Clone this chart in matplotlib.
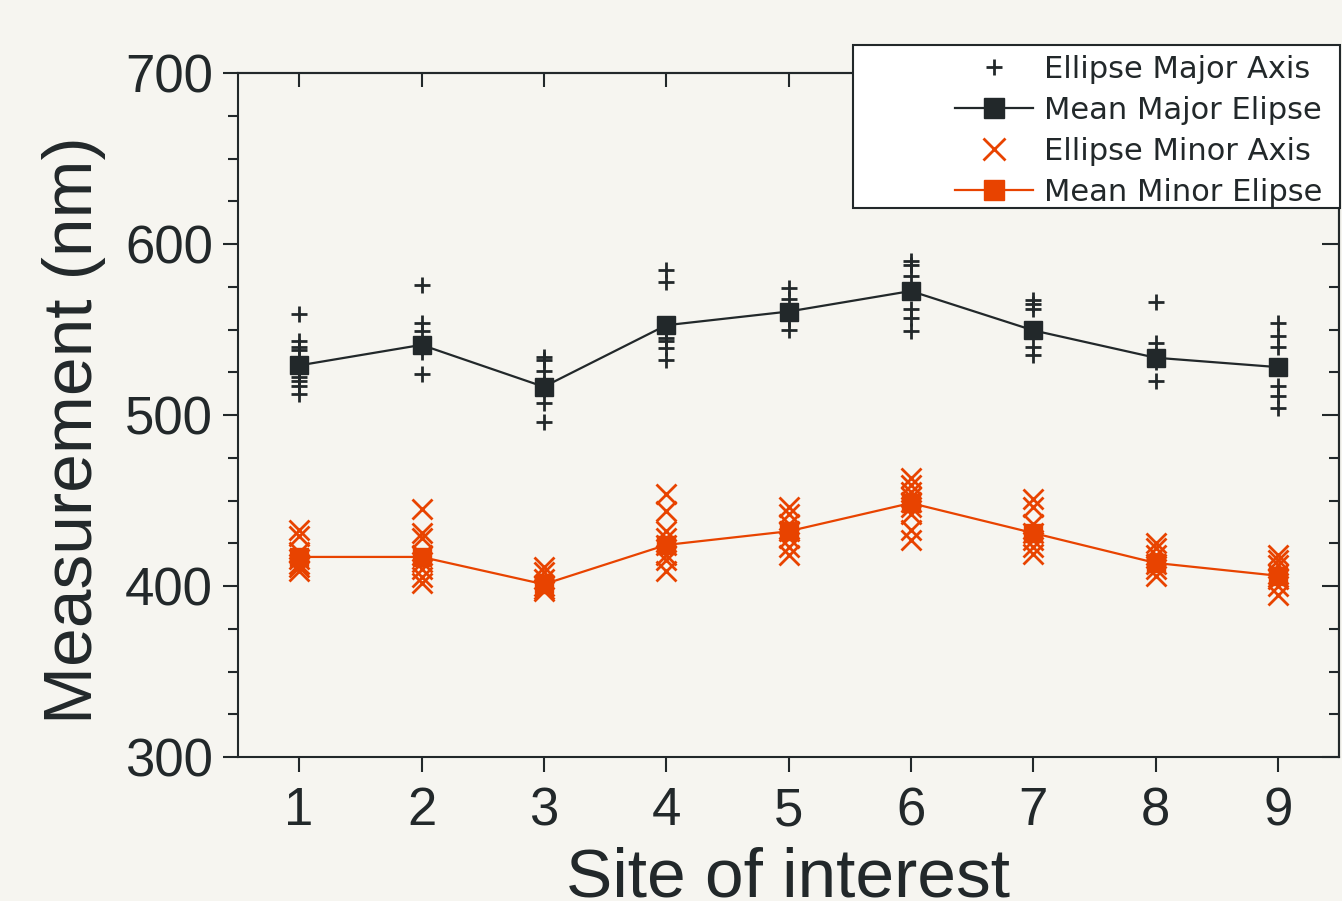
import matplotlib
matplotlib.use('Agg')
import matplotlib.pyplot as plt
from matplotlib.ticker import MultipleLocator
from matplotlib.patches import Rectangle

# ---------------- data ----------------
sites = [1, 2, 3, 4, 5, 6, 7, 8, 9]

major_axis_values = [
    [559, 543, 540, 538, 530, 522, 520, 517, 512],
    [576, 554, 549, 542, 540, 537, 524],
    [534, 532, 526, 518, 515, 507, 496],
    [585, 578, 553, 545, 543, 539, 532],
    [574, 568, 561, 556, 550],
    [590, 588, 581, 573, 562, 557, 549],
    [567, 565, 562, 550, 540, 535],
    [566, 542, 535, 531, 520],
    [554, 546, 540, 528, 517, 511, 504],
]
minor_axis_values = [
    [433, 429, 420, 416, 413, 411, 409],
    [445, 431, 428, 418, 414, 410, 405, 402],
    [411, 408, 404, 400, 398, 397],
    [454, 444, 432, 428, 424, 418, 415, 409],
    [446, 442, 436, 432, 428, 423, 418],
    [463, 459, 455, 452, 449, 446, 442, 433, 427],
    [451, 446, 436, 431, 427, 423, 419],
    [425, 422, 418, 413, 410, 406],
    [418, 415, 412, 407, 404, 400, 395],
]
mean_major = [529, 541, 516.5, 552.5, 560.5, 572.5, 549.5, 533.5, 528]
mean_minor = [417, 417, 401, 424, 432, 448.5, 431, 413.5, 406]

legend_labels = ["Ellipse Major Axis", "Mean Major Elipse",
                 "Ellipse Minor Axis", "Mean Minor Elipse"]
x_label = "Site of interest"
y_label = "Measurement (nm)"

# ---------------- style ----------------
BG = '#f6f5f0'
DARK = '#22282a'
ORANGE = '#e84300'
W, H = 1342, 901

plt.rcParams['font.family'] = ['Liberation Sans', 'DejaVu Sans']

fig = plt.figure(figsize=(W / 100, H / 100), dpi=100, facecolor=BG)
ax = fig.add_axes([238 / W, 1 - 757 / H, (1339 - 238) / W, (757 - 73) / H])
ax.set_facecolor(BG)

maj_x = [s for s, v in zip(sites, major_axis_values) for _ in v]
maj_y = [y for v in major_axis_values for y in v]
min_x = [s for s, v in zip(sites, minor_axis_values) for _ in v]
min_y = [y for v in minor_axis_values for y in v]

h1, = ax.plot(maj_x, maj_y, ls='none', marker='+', ms=11, mew=2.0, color=DARK, zorder=3)
h3, = ax.plot(min_x, min_y, ls='none', marker='x', ms=14, mew=2.0, color=ORANGE, zorder=3)
h2, = ax.plot(sites, mean_major, '-', marker='s', color=DARK, lw=1.6, ms=12.5, zorder=4)
h4, = ax.plot(sites, mean_minor, '-', marker='s', color=ORANGE, lw=1.6, ms=12.5, zorder=4)

ax.set_xlim(0.5, 9.5)
ax.set_ylim(300, 700)
ax.set_xticks(sites)
ax.yaxis.set_major_locator(MultipleLocator(100))
ax.yaxis.set_minor_locator(MultipleLocator(25))

ax.tick_params(axis='both', which='major', direction='out', length=11, width=1.5,
               labelsize=38, colors=DARK)
ax.tick_params(axis='y', which='minor', direction='out', length=7, width=1.5, colors=DARK)
ax.tick_params(axis='y', which='major', pad=7)
ax.tick_params(axis='x', which='major', pad=10)
for sp in ax.spines.values():
    sp.set_linewidth(1.5)
    sp.set_color(DARK)

axr = ax.secondary_yaxis('right')
axr.yaxis.set_major_locator(MultipleLocator(100))
axr.yaxis.set_minor_locator(MultipleLocator(25))
axr.tick_params(which='major', direction='in', length=12, width=1.5, colors=DARK, labelright=False)
axr.tick_params(which='minor', direction='in', length=7, width=1.5, colors=DARK)
axr.spines['right'].set_linewidth(1.5)
axr.spines['right'].set_color(DARK)

axt = ax.secondary_xaxis('top')
axt.set_xticks(sites)
axt.tick_params(which='major', direction='in', length=10, width=1.5, colors=DARK, labeltop=False)
axt.spines['top'].set_linewidth(1.5)
axt.spines['top'].set_color(DARK)

ax.set_ylabel(y_label, fontsize=50, color=DARK)
ax.yaxis.set_label_coords(-0.12, 0.478)
ax.set_xlabel(x_label, fontsize=50, color=DARK)
ax.xaxis.set_label_coords(0.5, -0.131)

# legend box
rect = Rectangle((853 / W, 1 - 208 / H), 487 / W, 163 / H, transform=fig.transFigure,
                 facecolor='white', edgecolor=DARK, lw=1.5, zorder=4)
fig.add_artist(rect)
leg = fig.legend([h1, h2, h3, h4], legend_labels, loc='upper right',
                 bbox_to_anchor=(1322 / W, 1 - 55 / H), frameon=False,
                 prop={'family': 'DejaVu Sans', 'size': 22},
                 handlelength=2.55, handletextpad=0.36, labelspacing=0.39,
                 borderpad=0, borderaxespad=0, markerscale=1.1)
for t in leg.get_texts():
    t.set_color(DARK)
leg.set_zorder(6)

fig.savefig('out.png', dpi=100, facecolor=BG)
